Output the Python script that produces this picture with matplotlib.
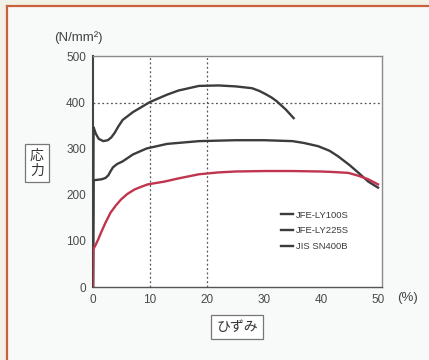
import matplotlib
matplotlib.use("Agg")
import matplotlib.pyplot as plt
from matplotlib.patches import Rectangle
from matplotlib.lines import Line2D

plt.rcParams['font.family'] = ['Liberation Sans', 'Noto Sans CJK JP', 'DejaVu Sans']

# --- data -------------------------------------------------------------
ly100_strain = [0, 0.05, 0.4, 0.9, 1.4, 2.2, 3.1, 4.0, 4.9, 6.0, 7.3, 8.5, 9.6, 12.5, 15,
                18.6, 22, 25, 30, 35, 40, 42, 44.8, 46.5, 48.3, 50]
ly100_stress = [0, 82, 90, 103, 118, 140, 162, 177, 190, 202, 212, 218, 223, 229, 236,
                245, 249, 251, 252, 252, 251, 250, 248, 242, 234, 223]

ly225_strain = [0, 0.1, 1.5, 2.2, 2.7, 3.1, 3.5, 4.2, 5.2, 7.0, 9.4, 13, 18.6, 25, 30,
                35, 37, 39.5, 41.5, 43, 45, 46.5, 48.3, 50]
ly225_stress = [0, 232, 234, 237, 243, 252, 260, 267, 273, 288, 301, 311, 317, 319, 319,
                317, 313, 306, 296, 284, 265, 249, 229, 216]

sn400_strain = [0, 0.1, 0.5, 1.0, 1.8, 2.6, 3.2, 3.8, 4.4, 5.2, 7.0, 10, 13, 15, 18.6,
                22, 25, 27.9, 29.2, 30.3, 31.3, 32.2, 33.8, 35.2]
sn400_stress = [0, 347, 333, 322, 317, 319, 325, 335, 348, 363, 380, 402, 418, 427, 437,
                438, 436, 432, 426, 419, 412, 404, 386, 367]

legend_labels = ["JFE-LY100S", "JFE-LY225S", "JIS SN400B"]
x_ticks = [0, 10, 20, 30, 40, 50]
y_ticks = [0, 100, 200, 300, 400, 500]
x_grid = [10, 20]
y_grid = [400]

# --- figure -----------------------------------------------------------
W, H = 429, 360
fig = plt.figure(figsize=(W / 100, H / 100), dpi=100)
fig.patch.set_facecolor('#f2f1e6')
fig.patches.append(Rectangle((7 / W, 0), 1, 1 - 6 / H, transform=fig.transFigure,
                             facecolor='#f8f9f9', edgecolor='none', zorder=-10))
fig.lines.append(Line2D([7 / W, 7 / W], [0, 1 - 6 / H], transform=fig.transFigure,
                        color='#c9623c', lw=1.6))
fig.lines.append(Line2D([7 / W, 1], [1 - 6 / H, 1 - 6 / H], transform=fig.transFigure,
                        color='#c9623c', lw=1.6))

ax = fig.add_axes([93 / W, 1 - 287 / H, 289 / W, 231 / H])
ax.set_facecolor('white')
ax.set_xlim(0, 50.7)
ax.set_ylim(0, 502)

for xv in x_grid:
    ax.axvline(xv, color='#555555', lw=0.9, ls=(0, (1.5, 2)), zorder=1)
for yv in y_grid:
    ax.axhline(yv, color='#555555', lw=0.9, ls=(0, (1.5, 2)), zorder=1)

ax.plot(sn400_strain, sn400_stress, color='#3c3c3c', lw=1.7, zorder=3)
ax.plot(ly225_strain, ly225_stress, color='#3c3c3c', lw=1.7, zorder=3)
ax.plot(ly100_strain, ly100_stress, color='#c0344e', lw=1.7, zorder=4)

for s in ax.spines.values():
    s.set_color('#8a8a8a')
    s.set_linewidth(1.0)
ax.spines['left'].set_color('#444444')
ax.spines['left'].set_linewidth(1.5)
ax.spines['bottom'].set_color('#555555')

ax.set_xticks(x_ticks)
ax.set_yticks(y_ticks)
ax.tick_params(length=0, labelsize=8.5, labelcolor='#4a4a4a', pad=5)

handles = [Line2D([], [], color='#3c3c3c', lw=1.7) for _ in legend_labels]
leg = ax.legend(handles, legend_labels, loc='upper left', bbox_to_anchor=(0.65, 0.33),
                frameon=False, fontsize=6.8, handlelength=1.3, handletextpad=0.3,
                labelspacing=0.7, borderaxespad=0, borderpad=0)
for t in leg.get_texts():
    t.set_color('#3a3a3a')

fig.text(78 / W, 1 - 38 / H, "(N/mm²)", ha='center', va='center', fontsize=9.5, color='#444444')
fig.text(408 / W, 1 - 298 / H, "(%)", ha='center', va='center', fontsize=9.5, color='#444444')

fig.text(37 / W, 1 - 163 / H, "応\n力", ha='center', va='center', fontsize=10,
         color='#333333', linespacing=1.1, family=['Noto Sans CJK JP'],
         bbox=dict(boxstyle='square,pad=0.35', facecolor='white', edgecolor='#777777', lw=0.9))
fig.text(237 / W, 1 - 327 / H, "ひずみ", ha='center', va='center', fontsize=10,
         color='#333333', family=['Noto Sans CJK JP'],
         bbox=dict(boxstyle='square,pad=0.35', facecolor='white', edgecolor='#777777', lw=0.9))

fig.savefig("out.png", dpi=100, facecolor=fig.get_facecolor())
